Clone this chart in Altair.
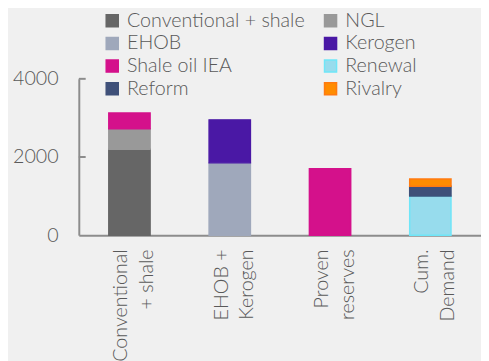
import json
import altair as alt
import pandas as pd

categories = ["Conventional + shale", "EHOB + Kerogen", "Proven reserves", "Cum. Demand"]
category_lines = [["Conventional", "+ shale"], ["EHOB +", "Kerogen"], ["Proven", "reserves"], ["Cum.", "Demand"]]
# legend fills column by column: first column, then second column
series = ["Conventional + shale", "EHOB", "Shale oil IEA", "Reform",
          "NGL", "Kerogen", "Renewal", "Rivalry"]
fill_colors = ["#666666", "#9fa8bb", "#d4118b", "#3f5079",
               "#999999", "#4a18a5", "#97dced", "#ff8c00"]
stroke_colors = ["#666666", "#9fa8bb", "#d4118b", "#3f5079",
                 "#999999", "#4a18a5", "#6fe6f8", "#ff7a10"]

bar_category = ["Conventional + shale", "Conventional + shale", "Conventional + shale",
                "EHOB + Kerogen", "EHOB + Kerogen", "Proven reserves",
                "Cum. Demand", "Cum. Demand", "Cum. Demand"]
bar_series = ["Conventional + shale", "NGL", "Shale oil IEA", "EHOB", "Kerogen",
              "Shale oil IEA", "Renewal", "Reform", "Rivalry"]
bar_values = [2200, 525, 400, 1850, 1100, 1700, 1000, 250, 190]
bar_order = [0, 1, 2, 0, 1, 0, 0, 1, 2]

y_ticks = [0, 2000, 4000]
inner_ticks = [2000, 4000]

FONT = "Lato"
GREY = "#595959"
AXIS = "#8c8c8c"

df = pd.DataFrame({"cat": bar_category, "series": bar_series, "value": bar_values, "ord": bar_order})
ticks_df = pd.DataFrame({"v": inner_ticks})

label_map = json.dumps(dict(zip(categories, category_lines)))

legend = alt.Legend(
    title=None, orient="none", legendX=24, legendY=-69, columns=2,
    symbolType="square", symbolSize=150, symbolStrokeWidth=1.5,
    labelFont=FONT, labelFontSize=20, labelColor=GREY, labelFontWeight=300,
    labelOffset=5, rowPadding=3, columnPadding=16, padding=0, labelLimit=300,
)

bars = alt.Chart(df).mark_bar(size=42, strokeWidth=1.5).encode(
    x=alt.X("cat:N", sort=categories, title=None,
            scale=alt.Scale(paddingInner=0.59, paddingOuter=0.3),
            axis=alt.Axis(labelAngle=270, labelAlign="right", labelBaseline="middle",
                          labelExpr=f"{label_map}[datum.value]",
                          labelFont=FONT, labelFontSize=20, labelColor=GREY, labelFontWeight=300,
                          labelLineHeight=26, labelPadding=14, labelOffset=-8, ticks=False,
                          domainColor=AXIS, domainWidth=2)),
    y=alt.Y("value:Q", stack="zero", title=None,
            scale=alt.Scale(domain=[0, 4000], nice=False),
            axis=alt.Axis(values=y_ticks, ticks=False, grid=False, format="d",
                          labelFont=FONT, labelFontSize=20, labelColor=GREY, labelFontWeight=300,
                          labelPadding=21, domainColor=AXIS, domainWidth=2)),
    color=alt.Color("series:N", scale=alt.Scale(domain=series, range=fill_colors), legend=legend),
    stroke=alt.Stroke("series:N", scale=alt.Scale(domain=series, range=stroke_colors), legend=legend),
    order=alt.Order("ord:Q"),
)

tick_marks = alt.Chart(ticks_df).mark_rule(color=AXIS, strokeWidth=2).encode(
    y=alt.Y("v:Q"),
    x=alt.value(0),
    x2=alt.value(7),
)

chart = alt.layer(bars, tick_marks).properties(
    width=409, height=159,
    autosize=alt.AutoSizeParams(type="none"),
    padding={"left": 72, "top": 69, "right": 0, "bottom": 130},
    background="#f0f0f0",
).configure_view(stroke=None)

chart.save("out.html", embed_options={"renderer": "svg", "actions": False})
